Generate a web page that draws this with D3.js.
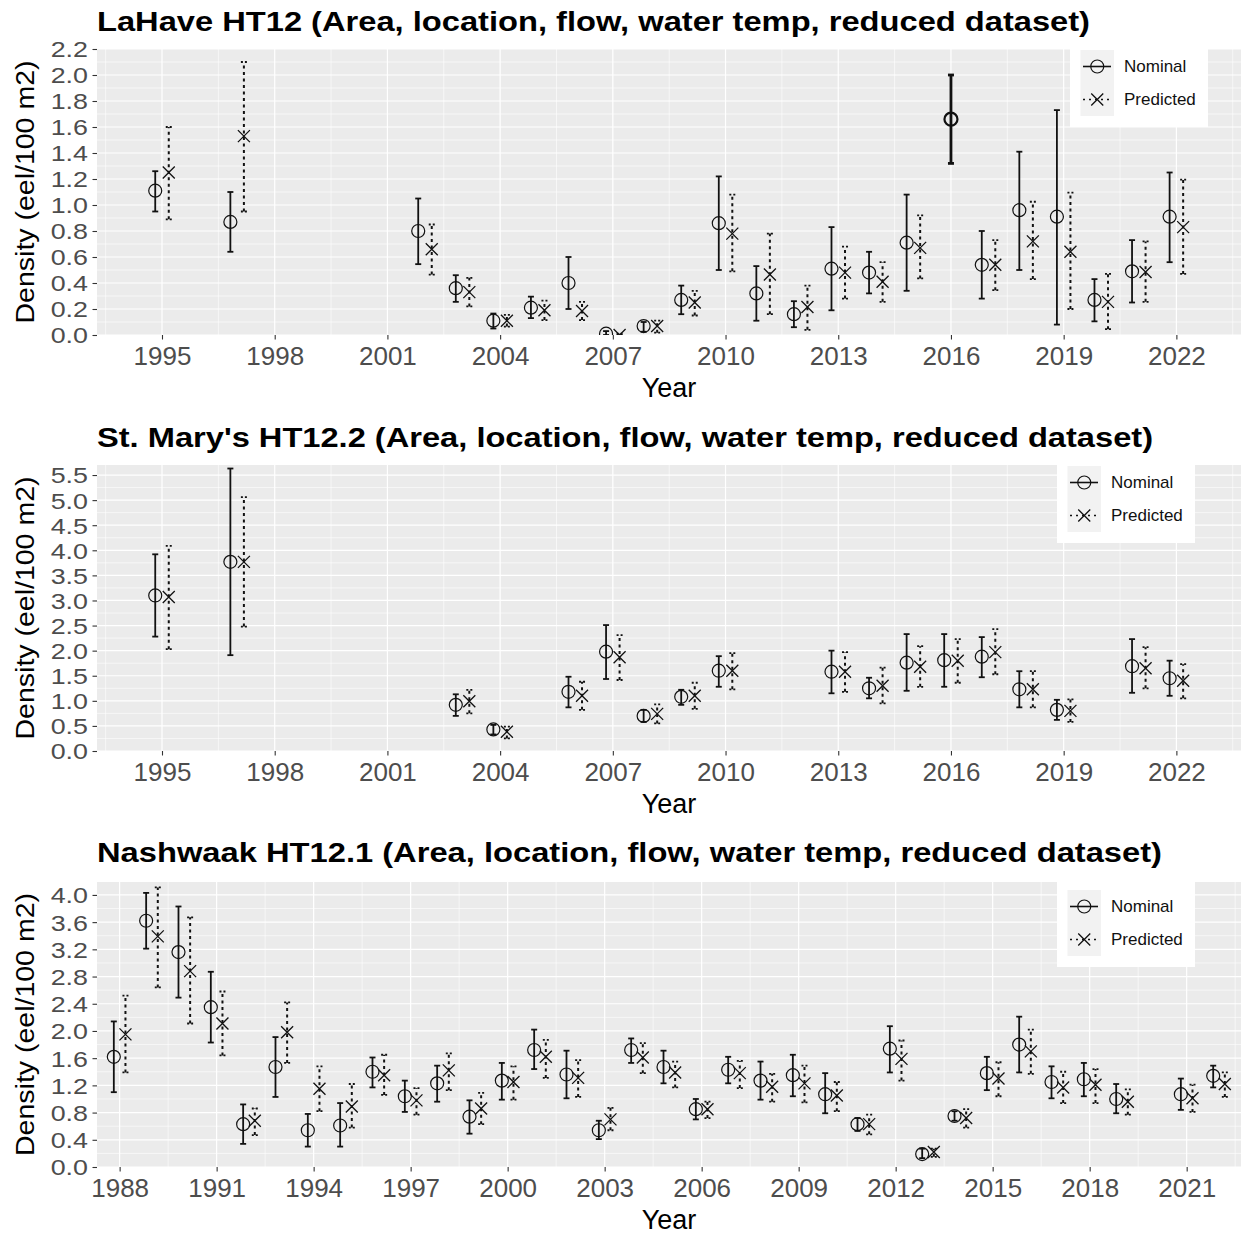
<!DOCTYPE html>
<html><head><meta charset="utf-8">
<script src="https://cdn.jsdelivr.net/npm/d3@7"></script>
<style>
body{margin:0;background:#fff}
text{font-family:"Liberation Sans",Arial,Helvetica,sans-serif}
</style>
</head><body>
<svg id="c" width="1241" height="1234" xmlns="http://www.w3.org/2000/svg"></svg>
<script>
// ---------- Panel 1: LaHave HT12 ----------
const lahaveYears   = [1995,1997,2002,2003,2004,2005,2006,2007,2008,2009,2010,2011,2012,2013,2014,2015,2016,2017,2018,2019,2020,2021,2022];
const lahaveNom     = [1.11,0.87,0.80,0.36,0.11,0.21,0.40,0.01,0.069,0.27,0.86,0.32,0.16,0.51,0.48,0.71,1.66,0.54,0.96,0.91,0.27,0.49,0.91];
const lahaveNomLo   = [0.95,0.64,0.545,0.255,0.05,0.13,0.20,0.0,0.025,0.16,0.50,0.11,0.06,0.19,0.32,0.34,1.32,0.28,0.50,0.08,0.105,0.25,0.56];
const lahaveNomHi   = [1.26,1.10,1.05,0.46,0.165,0.295,0.60,0.03,0.10,0.38,1.22,0.53,0.26,0.83,0.64,1.08,2.00,0.80,1.41,1.73,0.43,0.73,1.25];
const lahavePred    = [1.25,1.53,0.66,0.33,0.11,0.19,0.185,0.0,0.069,0.25,0.78,0.465,0.215,0.48,0.41,0.67,null,0.54,0.72,0.64,0.255,0.485,0.83];
const lahavePredLo  = [0.89,0.95,0.465,0.22,0.065,0.115,0.115,0.0,0.018,0.15,0.49,0.16,0.04,0.28,0.255,0.435,null,0.345,0.43,0.20,0.045,0.255,0.47];
const lahavePredHi  = [1.60,2.10,0.85,0.44,0.155,0.265,0.255,0.01,0.11,0.34,1.08,0.78,0.38,0.68,0.56,0.92,null,0.73,1.025,1.095,0.47,0.72,1.195];
const lahaveXTicks  = [1995,1998,2001,2004,2007,2010,2013,2016,2019,2022];
const lahaveYTicks  = [0.0,0.2,0.4,0.6,0.8,1.0,1.2,1.4,1.6,1.8,2.0,2.2];

// ---------- Panel 2: St. Mary's HT12.2 ----------
const stmarysYears  = [1995,1997,2003,2004,2006,2007,2008,2009,2010,2013,2014,2015,2016,2017,2018,2019,2021,2022];
const stmarysNom    = [3.10,3.77,0.92,0.43,1.18,1.98,0.70,1.08,1.60,1.58,1.25,1.76,1.81,1.88,1.23,0.82,1.69,1.45];
const stmarysNomLo  = [2.28,1.91,0.70,0.33,0.87,1.435,0.58,0.92,1.28,1.15,1.05,1.20,1.28,1.47,0.87,0.62,1.16,1.10];
const stmarysNomHi  = [3.92,5.63,1.13,0.52,1.48,2.51,0.82,1.22,1.89,2.00,1.46,2.33,2.33,2.27,1.59,1.02,2.23,1.80];
const stmarysPred   = [3.07,3.77,0.99,0.385,1.10,1.87,0.74,1.10,1.60,1.58,1.30,1.68,1.80,1.97,1.23,0.80,1.65,1.40];
const stmarysPredLo = [2.03,2.48,0.75,0.25,0.82,1.415,0.55,0.84,1.23,1.18,0.95,1.28,1.36,1.53,0.87,0.58,1.25,1.05];
const stmarysPredHi = [4.09,5.06,1.22,0.485,1.38,2.31,0.93,1.36,1.95,1.97,1.66,2.09,2.23,2.43,1.59,1.03,2.07,1.73];
const stmarysXTicks = [1995,1998,2001,2004,2007,2010,2013,2016,2019,2022];
const stmarysYTicks = [0.0,0.5,1.0,1.5,2.0,2.5,3.0,3.5,4.0,4.5,5.0,5.5];

// ---------- Panel 3: Nashwaak HT12.1 ----------
const nashYears   = [1988,1989,1990,1991,1992,1993,1994,1995,1996,1997,1998,1999,2000,2001,2002,2003,2004,2005,2006,2007,2008,2009,2010,2011,2012,2013,2014,2015,2016,2017,2018,2019,2021,2022];
const nashNom     = [1.62,3.62,3.16,2.35,0.63,1.47,0.54,0.61,1.40,1.04,1.23,0.74,1.27,1.72,1.36,0.54,1.72,1.47,0.85,1.43,1.27,1.35,1.07,0.63,1.74,0.19,0.75,1.38,1.80,1.25,1.29,1.00,1.07,1.34];
const nashNomLo   = [1.10,3.21,2.49,1.83,0.34,1.03,0.30,0.30,1.17,0.81,0.96,0.49,0.99,1.44,1.01,0.41,1.53,1.23,0.70,1.23,0.99,1.04,0.79,0.53,1.39,0.13,0.68,1.13,1.39,1.01,1.04,0.79,0.84,1.17];
const nashNomHi   = [2.14,4.03,3.83,2.87,0.92,1.91,0.78,0.94,1.61,1.27,1.49,0.98,1.53,2.02,1.71,0.68,1.89,1.71,1.00,1.62,1.55,1.65,1.38,0.72,2.07,0.27,0.82,1.62,2.21,1.48,1.53,1.22,1.30,1.49];
const nashPred    = [1.95,3.39,2.88,2.11,0.68,1.98,1.15,0.89,1.35,0.98,1.42,0.86,1.25,1.62,1.31,0.70,1.61,1.39,0.85,1.38,1.18,1.23,1.05,0.63,1.59,0.22,0.72,1.30,1.70,1.17,1.21,0.96,1.01,1.22];
const nashPredLo  = [1.39,2.64,2.11,1.64,0.47,1.53,0.82,0.58,1.06,0.77,1.13,0.63,0.99,1.31,1.03,0.54,1.38,1.17,0.72,1.16,0.96,0.95,0.82,0.48,1.27,0.15,0.58,1.04,1.37,0.94,0.94,0.77,0.81,1.03];
const nashPredHi  = [2.52,4.11,3.67,2.58,0.86,2.42,1.48,1.22,1.65,1.16,1.67,1.09,1.48,1.87,1.57,0.87,1.82,1.55,0.96,1.56,1.37,1.49,1.25,0.77,1.86,0.27,0.85,1.54,2.02,1.40,1.44,1.14,1.21,1.39];
const nashXTicks  = [1988,1991,1994,1997,2000,2003,2006,2009,2012,2015,2018,2021];
const nashYTicks  = [0.0,0.4,0.8,1.2,1.6,2.0,2.4,2.8,3.2,3.6,4.0];

const seriesNames = ["Nominal","Predicted"];

// ---------- layout (not data) ----------
const panels = [
  {title:"LaHave HT12 (Area, location, flow, water temp, reduced dataset)", titleW:993,
   years:lahaveYears, nom:lahaveNom, nomLo:lahaveNomLo, nomHi:lahaveNomHi, pred:lahavePred, predLo:lahavePredLo, predHi:lahavePredHi,
   xTicks:lahaveXTicks, yTicks:lahaveYTicks, xMin:1993.27, xMax:2023.72, yMax:2.2,
   top:49, bottom:335, titleY:31, legend:{x:1070, y:42}},
  {title:"St. Mary's HT12.2 (Area, location, flow, water temp, reduced dataset)", titleW:1056,
   years:stmarysYears, nom:stmarysNom, nomLo:stmarysNomLo, nomHi:stmarysNomHi, pred:stmarysPred, predLo:stmarysPredLo, predHi:stmarysPredHi,
   xTicks:stmarysXTicks, yTicks:stmarysYTicks, xMin:1993.27, xMax:2023.72, yMax:5.7,
   top:465, bottom:751, titleY:447, legend:{x:1057, y:458}},
  {title:"Nashwaak HT12.1 (Area, location, flow, water temp, reduced dataset)", titleW:1065,
   years:nashYears, nom:nashNom, nomLo:nashNomLo, nomHi:nashNomHi, pred:nashPred, predLo:nashPredLo, predHi:nashPredHi,
   xTicks:nashXTicks, yTicks:nashYTicks, xMin:1987.3, xMax:2022.68, yMax:4.19,
   top:882, bottom:1167, titleY:862, legend:{x:1057, y:882}}
];

const L = 97, R = 1241;
const DODGE = 0.18;
const svg = d3.select("#c");
svg.append("rect").attr("width",1241).attr("height",1234).attr("fill","#fff");
const fmt = d3.format(".1f");

function crossPath(cx, cy, s){
  return `M${cx-s},${cy-s}L${cx+s},${cy+s}M${cx-s},${cy+s}L${cx+s},${cy-s}`;
}

panels.forEach((p, pi) => {
  const x = d3.scaleLinear().domain([p.xMin, p.xMax]).range([L, R]);
  const y = d3.scaleLinear().domain([0, p.yMax]).range([p.bottom, p.top]);
  const g = svg.append("g");

  // panel background
  g.append("rect").attr("x", L).attr("y", p.top).attr("width", R - L)
    .attr("height", p.bottom - p.top).attr("fill", "#EBEBEB");

  // minor grid
  const ys = p.yTicks[1] - p.yTicks[0];
  const yMinor = p.yTicks.map(t => t + ys/2).filter(v => v < p.yMax);
  const xs = p.xTicks[1] - p.xTicks[0];
  const xMinor = [p.xTicks[0] - xs/2].concat(p.xTicks.map(t => t + xs/2)).filter(v => v > p.xMin && v < p.xMax);
  g.selectAll(null).data(yMinor).enter().append("line")
    .attr("x1", L).attr("x2", R).attr("y1", d => y(d)).attr("y2", d => y(d))
    .attr("stroke", "#fff").attr("stroke-width", 0.6);
  g.selectAll(null).data(xMinor).enter().append("line")
    .attr("y1", p.top).attr("y2", p.bottom).attr("x1", d => x(d)).attr("x2", d => x(d))
    .attr("stroke", "#fff").attr("stroke-width", 0.6);
  // major grid
  g.selectAll(null).data(p.yTicks).enter().append("line")
    .attr("x1", L).attr("x2", R).attr("y1", d => y(d)).attr("y2", d => y(d))
    .attr("stroke", "#fff").attr("stroke-width", 1.2);
  g.selectAll(null).data(p.xTicks).enter().append("line")
    .attr("y1", p.top).attr("y2", p.bottom).attr("x1", d => x(d)).attr("x2", d => x(d))
    .attr("stroke", "#fff").attr("stroke-width", 1.2);

  // axes
  const ax = g.append("g").attr("transform", `translate(0,${p.bottom})`)
    .call(d3.axisBottom(x).tickValues(p.xTicks).tickFormat(d3.format("d")).tickSize(4.5).tickPadding(7));
  const ay = g.append("g").attr("transform", `translate(${L},0)`)
    .call(d3.axisLeft(y).tickValues(p.yTicks).tickFormat(fmt).tickSize(4.5).tickPadding(4.5));
  [ax, ay].forEach(a => {
    a.select(".domain").remove();
    a.selectAll(".tick line").attr("stroke", "#333").attr("stroke-width", 1.1);
    a.selectAll(".tick text").attr("fill", "#4D4D4D")
      .style("font-family", '"Liberation Sans",Arial,sans-serif');
  });
  ax.selectAll(".tick text").style("font-size", "26px");
  ay.selectAll(".tick text").style("font-size", "22px").attr("dy", "0.36em")
    .attr("lengthAdjust", "spacingAndGlyphs")
    .attr("textLength", function(){ return this.getComputedTextLength() * 1.22; });

  // title
  svg.append("text").attr("x", L).attr("y", p.titleY)
    .attr("textLength", p.titleW).attr("lengthAdjust", "spacingAndGlyphs")
    .style("font-size", "28px").style("font-weight", "bold").attr("fill", "#000").text(p.title);
  // x title
  svg.append("text").attr("x", (L + R)/2).attr("y", p.bottom + 62).attr("text-anchor", "middle")
    .style("font-size", "27px").attr("fill", "#000").text("Year");
  // y title
  const cy = (p.top + p.bottom)/2;
  svg.append("text").attr("transform", `translate(34,${cy}) rotate(-90)`).attr("text-anchor", "middle")
    .attr("textLength", 263).attr("lengthAdjust", "spacingAndGlyphs")
    .style("font-size", "26px").attr("fill", "#000").text("Density (eel/100 m2)");

  // marks clipped to panel
  const clipId = "clip" + pi;
  svg.append("clipPath").attr("id", clipId).append("rect")
    .attr("x", L).attr("y", p.top).attr("width", R - L).attr("height", p.bottom - p.top);
  const m = svg.append("g").attr("clip-path", `url(#${clipId})`);

  p.years.forEach((yr, i) => {
    const hasPred = p.pred[i] !== null && p.pred[i] !== undefined;
    const solo = !hasPred;
    // nominal
    const nx = x(solo ? yr : yr - DODGE);
    const sw = solo ? 2.8 : 1.8;
    m.append("line").attr("x1", nx).attr("x2", nx).attr("y1", y(p.nomLo[i])).attr("y2", y(p.nomHi[i]))
      .attr("stroke", "#111").attr("stroke-width", sw);
    [p.nomLo[i], p.nomHi[i]].forEach(v => {
      m.append("line").attr("x1", nx - 3).attr("x2", nx + 3).attr("y1", y(v)).attr("y2", y(v))
        .attr("stroke", "#111").attr("stroke-width", sw);
    });
    m.append("circle").attr("cx", nx).attr("cy", y(p.nom[i])).attr("r", 6.5)
      .attr("fill", "none").attr("stroke", "#111").attr("stroke-width", solo ? 2.2 : 1.2);
    if (hasPred) {
      const px = x(yr + DODGE);
      m.append("line").attr("x1", px).attr("x2", px).attr("y1", y(p.predLo[i])).attr("y2", y(p.predHi[i]))
        .attr("stroke", "#111").attr("stroke-width", 2).attr("stroke-dasharray", "3,3.5");
      [p.predLo[i], p.predHi[i]].forEach(v => {
        m.append("line").attr("x1", px - 3).attr("x2", px + 3).attr("y1", y(v)).attr("y2", y(v))
          .attr("stroke", "#111").attr("stroke-width", 1.8).attr("stroke-dasharray", "2,2");
      });
      m.append("path").attr("d", crossPath(px, y(p.pred[i]), 6))
        .attr("fill", "none").attr("stroke", "#111").attr("stroke-width", 1.3);
    }
  });

  // legend
  const lg = svg.append("g").attr("transform", `translate(${p.legend.x},${p.legend.y})`);
  lg.append("rect").attr("width", 138).attr("height", 85).attr("fill", "#fff");
  seriesNames.forEach((name, k) => {
    const ky = 8 + k*33;
    lg.append("rect").attr("x", 10.5).attr("y", ky).attr("width", 33.5).attr("height", 33).attr("fill", "#F2F2F2");
    const cxk = 10.5 + 33.5/2, cyk = ky + 16.5;
    if (k === 0) {
      lg.append("line").attr("x1", 13).attr("x2", 41).attr("y1", cyk).attr("y2", cyk)
        .attr("stroke", "#111").attr("stroke-width", 1.6);
      lg.append("circle").attr("cx", cxk).attr("cy", cyk).attr("r", 6.5)
        .attr("fill", "none").attr("stroke", "#111").attr("stroke-width", 1.2);
    } else {
      lg.append("line").attr("x1", 13).attr("x2", 41).attr("y1", cyk).attr("y2", cyk)
        .attr("stroke", "#111").attr("stroke-width", 1.6).attr("stroke-dasharray", "2,4");
      lg.append("path").attr("d", crossPath(cxk, cyk, 6))
        .attr("fill", "none").attr("stroke", "#111").attr("stroke-width", 1.3);
    }
    lg.append("text").attr("x", 54).attr("y", cyk).attr("dy", "0.35em")
      .style("font-size", "17px").attr("fill", "#111").text(name);
  });
});
</script>
</body></html>
